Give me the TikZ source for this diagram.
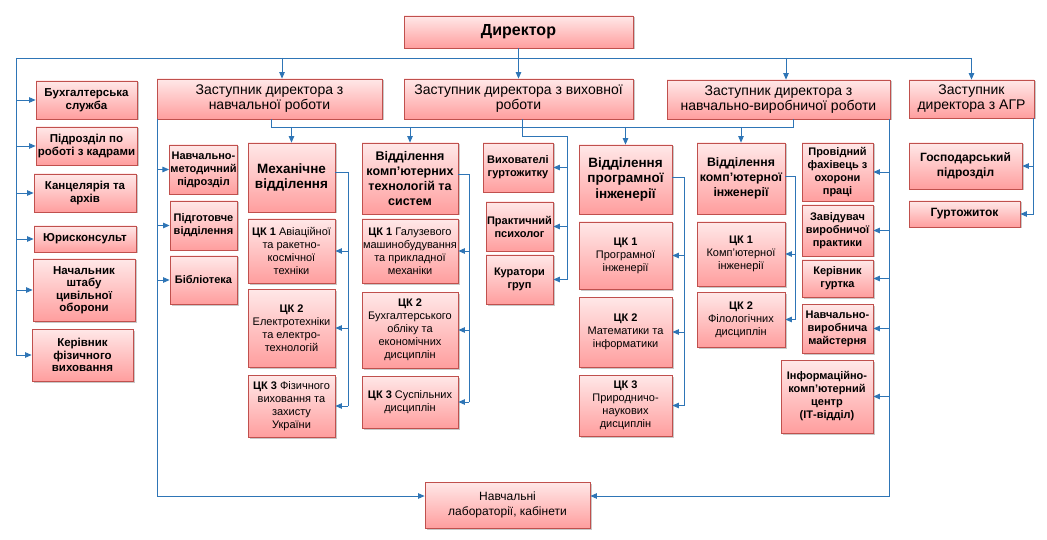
\documentclass[tikz,border=0pt]{standalone}
\usepackage{fontspec}
\setmainfont{Liberation Sans}
\usetikzlibrary{arrows.meta,shadows}

\definecolor{boxred}{RGB}{192,80,77}
\definecolor{boxtop}{RGB}{255,232,232}
\definecolor{boxbot}{RGB}{255,158,158}
\definecolor{linkblue}{RGB}{46,117,182}

\begin{document}
\begin{tikzpicture}[
        x=1pt, y=-1pt,
        box/.style={draw=boxred, line width=0.8pt, top color=boxtop, bottom color=boxbot, align=center, inner sep=1pt,
            drop shadow={shadow xshift=1.5pt, shadow yshift=-1.5pt, opacity=0.35, fill=black!60},
            font=\bfseries\fontsize{11}{13}\selectfont},
        wh/.style 2 args={minimum width=#1pt, minimum height=#2pt},
        chief/.style={font=\bfseries\fontsize{16}{18}\selectfont},
        deputy/.style={font=\fontsize{14}{15}\selectfont},
        side/.style={font=\bfseries\fontsize{11.5}{12.5}\selectfont},
        dept/.style={font=\bfseries\fontsize{13.5}{15.5}\selectfont},
        ck/.style={font=\fontsize{11}{13}\selectfont},
        wire/.style={draw=linkblue, line width=0.8pt},
        arr/.style={wire, -{Triangle[length=6.5pt, width=5.5pt]}},
    ]
    \useasboundingbox (0,0) rectangle (1047,540);
    \fill[white] (0,0) rectangle (1047,540);

    % top
    \node[box, chief, wh={229}{32}] (dir) at (518.5,32) {Директор};
    \node[box, deputy, wh={225}{40}] (znr) at (269.5,99) {Заступник директора з\\навчальної роботи};
    \node[box, deputy, wh={229}{40}] (zvr) at (518.5,99) {Заступник директора з виховної\\роботи};
    \node[box, deputy, wh={223}{39}] (znvr) at (778.5,99.5) {Заступник директора з\\навчально-виробничої роботи};
    \node[box, deputy, wh={125}{38}] (zagr) at (971.5,99) {Заступник\\директора з АГР};

    % left column
    \node[box, side, wh={101}{38}] (buh) at (86.5,100) {Бухгалтерська\\служба};
    \node[box, side, wh={101}{38}] (kadr) at (86.5,146) {Підрозділ по\\роботі з кадрами};
    \node[box, side, wh={102}{38}] (kanc) at (85,193) {Канцелярія та\\архів};
    \node[box, side, wh={102}{26}] (yur) at (85,239) {Юрисконсульт};
    \node[box, side, wh={102}{62}] (shtab) at (84,290) {Начальник\\штабу\\цивільної\\оборони};
    \node[box, side, wh={101}{52}] (fiz) at (82.5,355) {Керівник\\фізичного\\виховання};

    % educational work
    \node[box, wh={67}{49}] (nmp) at (203.5,169.5) {Навчально-\\методичний\\підрозділ};
    \node[box, wh={67}{49}] (pidg) at (203.5,225.5) {Підготовче\\відділення};
    \node[box, wh={67}{48}] (bib) at (203.5,280) {Бібліотека};

    \node[box, dept, wh={87}{69}] (mech) at (291.5,177.5) {Механічне\\відділення};
    \node[box, ck, wh={87}{64}] (m1) at (291.5,251) {\textbf{ЦК 1} Авіаційної\\та ракетно-\\космічної\\техніки};
    \node[box, ck, wh={87}{78}] (m2) at (291.5,328) {\textbf{ЦК 2}\\Електротехніки\\та електро-\\технологій};
    \node[box, ck, wh={87}{62}] (m3) at (291.5,406) {\textbf{ЦК 3} Фізичного\\виховання та\\захисту\\України};

    \node[box, font=\bfseries\fontsize{12.5}{15}\selectfont, wh={96}{71}] (kts) at (410,178.5) {Відділення\\комп’ютерних\\технологій та\\систем};
    \node[box, ck, wh={96}{64}] (k1) at (410,251) {\textbf{ЦК 1} Галузевого\\машинобудування\\та прикладної\\механіки};
    \node[box, ck, wh={96}{76}] (k2) at (410,330) {\textbf{ЦК 2}\\Бухгалтерського\\обліку та\\економічних\\дисциплін};
    \node[box, ck, wh={96}{52}] (k3) at (410,402) {\textbf{ЦК 3} Суспільних\\дисциплін};

    % upbringing work
    \node[box, wh={70}{49}] (vyh) at (518,167.5) {Вихователі\\гуртожитку};
    \node[box, wh={67}{49}] (psy) at (519.5,226.5) {Практичний\\психолог};
    \node[box, wh={67}{49}] (kur) at (519.5,279.5) {Куратори\\груп};

    % educational-production work
    \node[box, dept, wh={93}{69}] (pi) at (625.5,179.5) {Відділення\\програмної\\інженерії};
    \node[box, ck, wh={93}{67}] (p1) at (625.5,255.5) {\textbf{ЦК 1}\\Програмної\\інженерії};
    \node[box, ck, wh={93}{70}] (p2) at (625.5,332) {\textbf{ЦК 2}\\Математики та\\інформатики};
    \node[box, ck, wh={93}{61}] (p3) at (625.5,405.5) {\textbf{ЦК 3}\\Природничо-\\наукових\\дисциплін};

    \node[box, font=\bfseries\fontsize{12.3}{15}\selectfont, wh={88}{71}] (ki) at (741,178.5) {Відділення\\комп’ютерної\\інженерії};
    \node[box, ck, wh={88}{64}] (c1) at (741,254) {\textbf{ЦК 1}\\Комп’ютерної\\інженерії};
    \node[box, ck, wh={88}{55}] (c2) at (741,319.5) {\textbf{ЦК 2}\\Філологічних\\дисциплін};

    \node[box, wh={71}{58}] (ohor) at (837.5,172) {Провідний\\фахівець з\\охорони\\праці};
    \node[box, wh={71}{51}] (zav) at (837.5,230.5) {Завідувач\\виробничої\\практики};
    \node[box, wh={71}{37}] (gurt) at (837.5,278.5) {Керівник\\гуртка};
    \node[box, wh={71}{49}] (mays) at (837.5,328.5) {Навчально-\\виробнича\\майстерня};
    \node[box, wh={92}{73}] (itc) at (827,396.5) {Інформаційно-\\комп'ютерний\\центр\\(ІТ-відділ)};

    % AGR
    \node[box, font=\bfseries\fontsize{12}{14.5}\selectfont, wh={113}{46}] (gosp) at (965.5,166) {Господарський\\підрозділ};
    \node[box, font=\bfseries\fontsize{12}{14.5}\selectfont, wh={111}{26}] (gurtozh) at (964.5,214) {Гуртожиток};

    % bottom
    \node[box, font=\fontsize{12}{15}\selectfont, wh={165}{46}] (nl) at (507.5,505) {Навчальні\\лабораторії, кабінети};

    % director bus
    \coordinate (lbus) at (16,58);
    \coordinate (t1) at (282,58);
    \coordinate (t3) at (786,58);
    \draw[wire] (dir.south) -- (dir.south |- lbus);
    \draw[wire] (lbus) -- (zagr.north |- lbus);
    \draw[arr] (t1) -- (t1 |- znr.north);
    \draw[arr] (dir.south |- lbus) -- (zvr.north);
    \draw[arr] (t3) -- (t3 |- znvr.north);
    \draw[arr] (zagr.north |- lbus) -- (zagr.north);
    \draw[wire] (lbus) -- (lbus |- fiz.west);
    \draw[arr] (lbus |- buh.west) -- (buh.west);
    \draw[arr] (lbus |- kadr.west) -- (kadr.west);
    \draw[arr] (lbus |- kanc.west) -- (kanc.west);
    \draw[arr] (lbus |- yur.west) -- (yur.west);
    \draw[arr] (lbus |- shtab.west) -- (shtab.west);
    \draw[arr] (lbus |- fiz.west) -- (fiz.west);

    % departments
    \coordinate (hbus) at (271,127);
    \coordinate (nbus) at (793,127);
    \draw[wire] (hbus |- znr.south) -- (hbus) -- (hbus -| kts.north);
    \draw[arr] (hbus -| mech.north) -- (mech.north);
    \draw[arr] (hbus -| kts.north) -- (kts.north);
    \draw[wire] (nbus |- znvr.south) -- (nbus) -- (nbus -| kts.north);
    \draw[arr] (nbus -| pi.north) -- (pi.north);
    \draw[arr] (nbus -| ki.north) -- (ki.north);

    % left and right buses to the laboratories
    \coordinate (bbus) at (157,496);
    \coordinate (rbus) at (889,496);
    \draw[arr] (bbus |- znr.south) -- (bbus) -- (bbus -| nl.west);
    \draw[arr] (bbus |- nmp.west) -- (nmp.west);
    \draw[arr] (bbus |- pidg.west) -- (pidg.west);
    \draw[arr] (bbus |- bib.west) -- (bib.west);
    \draw[arr] (rbus |- znvr.south) -- (rbus) -- (rbus -| nl.east);
    \draw[arr] (rbus |- ohor.east) -- (ohor.east);
    \draw[arr] (rbus |- zav.east) -- (zav.east);
    \draw[arr] (rbus |- gurt.east) -- (gurt.east);
    \draw[arr] (rbus |- mays.east) -- (mays.east);
    \draw[arr] (rbus |- itc.east) -- (itc.east);

    % upbringing
    \coordinate (vtop) at (522,136);
    \coordinate (vbus) at (567,136);
    \draw[wire] (vtop |- zvr.south) -- (vtop) -- (vbus) -- (vbus |- kur.east);
    \draw[arr] (vbus |- vyh.east) -- (vyh.east);
    \draw[arr] (vbus |- psy.east) -- (psy.east);
    \draw[arr] (vbus |- kur.east) -- (kur.east);

    % cycle commissions
    \coordinate (mbus) at (348,172);
    \draw[wire] (mbus -| mech.east) -- (mbus) -- (mbus |- m3.east);
    \draw[arr] (mbus |- m1.east) -- (m1.east);
    \draw[arr] (mbus |- m2.east) -- (m2.east);
    \draw[arr] (mbus |- m3.east) -- (m3.east);
    \coordinate (kbus) at (469,174);
    \draw[wire] (kbus -| kts.east) -- (kbus) -- (kbus |- k3.east);
    \draw[arr] (kbus |- k1.east) -- (k1.east);
    \draw[arr] (kbus |- k2.east) -- (k2.east);
    \draw[arr] (kbus |- k3.east) -- (k3.east);
    \coordinate (pbus) at (684,177);
    \draw[wire] (pbus -| pi.east) -- (pbus) -- (pbus |- p3.east);
    \draw[arr] (pbus |- p1.east) -- (p1.east);
    \draw[arr] (pbus |- p2.east) -- (p2.east);
    \draw[arr] (pbus |- p3.east) -- (p3.east);
    \coordinate (cbus) at (795,176);
    \draw[wire] (cbus -| ki.east) -- (cbus) -- (cbus |- c2.east);
    \draw[arr] (cbus |- c1.east) -- (c1.east);
    \draw[arr] (cbus |- c2.east) -- (c2.east);

    % AGR
    \coordinate (abus) at (1033,0);
    \draw[arr] (abus |- zagr.south) |- (gurtozh.east);
    \draw[arr] (abus |- gosp.east) -- (gosp.east);
\end{tikzpicture}
\end{document}
